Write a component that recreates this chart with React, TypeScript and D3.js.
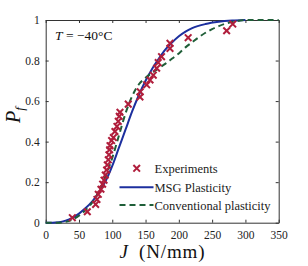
import * as d3 from 'd3';
import { useEffect, useRef } from 'react';

// experiments (J in N/mm, failure probability)
const expJ = [40, 62.5, 75, 77, 79, 83, 85.5, 87.6, 89.5, 91.5, 92.5, 94, 95, 96, 96.6, 99, 101.6, 104, 107, 109, 110.5, 111.6, 124, 141.6, 142, 151.7, 156.7, 161.6, 166.7, 169, 174, 186.7, 186.7, 214, 271.8, 281];
const expP = [0.025, 0.054, 0.09, 0.115, 0.14, 0.165, 0.19, 0.21, 0.235, 0.26, 0.285, 0.31, 0.335, 0.36, 0.38, 0.405, 0.42, 0.45, 0.475, 0.5, 0.525, 0.545, 0.585, 0.62, 0.646, 0.68, 0.704, 0.728, 0.762, 0.79, 0.819, 0.86, 0.885, 0.913, 0.947, 0.98];

// MSG plasticity curve
const msgJ = [0, 10, 20, 30, 40, 50, 60, 70, 80, 90, 100, 110, 120, 130, 140, 150, 160, 170, 180, 190, 200, 210, 220, 240, 260, 280, 300];
const msgP = [0, 0, 0.002, 0.01, 0.024, 0.045, 0.072, 0.105, 0.15, 0.205, 0.28, 0.37, 0.46, 0.55, 0.63, 0.7, 0.76, 0.81, 0.855, 0.89, 0.92, 0.943, 0.96, 0.98, 0.991, 0.997, 1];

// conventional plasticity curve
const convJ = [0, 10, 20, 30, 40, 50, 60, 70, 80, 90, 100, 110, 120, 130, 140, 150, 160, 170, 180, 190, 200, 210, 220, 230, 240, 250, 260, 270, 280, 290, 300, 350];
const convP = [0, 0, 0, 0.004, 0.015, 0.035, 0.062, 0.1, 0.155, 0.23, 0.32, 0.43, 0.54, 0.625, 0.683, 0.715, 0.74, 0.762, 0.785, 0.81, 0.835, 0.865, 0.89, 0.915, 0.937, 0.955, 0.97, 0.982, 0.99, 0.996, 1, 1];

const xTicks = [0, 50, 100, 150, 200, 250, 300, 350];
const yTicks = [0, 0.2, 0.4, 0.6, 0.8, 1];

const RED = '#b01e3c';
const BLUE = '#1c2f9e';
const GREEN = '#1f5e38';
const FONT = '"Liberation Serif", "DejaVu Serif", serif';

export default function App() {
  const svgRef = useRef<SVGSVGElement>(null);

  useEffect(() => {
    const svg = d3.select(svgRef.current);
    svg.selectAll('*').remove();

    const width = 308;
    const height = 266;
    const left = 45.7, right = 278.7, top = 20, bottom = 222.7;

    const x = d3.scaleLinear([0, 350], [left, right]);
    const y = d3.scaleLinear([0, 1], [bottom, top]);

    svg.attr('viewBox', [0, 0, width, height])
      .attr('width', width)
      .attr('height', height)
      .attr('font-family', FONT);

    svg.append('rect').attr('width', width).attr('height', height).attr('fill', 'white');

    const fmtY = (d: number) => (d === 0 || d === 1 ? String(d) : d.toFixed(1));

    // axes (ticks inward, box)
    svg.append('g')
      .attr('transform', `translate(0,${bottom})`)
      .call(d3.axisBottom(x).tickValues(xTicks).tickSize(-3).tickSizeOuter(0).tickPadding(8))
      .attr('font-family', FONT)
      .attr('font-size', 11.5)
      .call(g => g.select('.domain').attr('stroke', '#333'))
      .call(g => g.selectAll('.tick line').attr('stroke', '#333'))
      .call(g => g.selectAll('text').attr('fill', '#222'));

    svg.append('g')
      .attr('transform', `translate(${left},0)`)
      .call(d3.axisLeft(y).tickValues(yTicks).tickFormat(fmtY as any).tickSize(-3).tickSizeOuter(0).tickPadding(6))
      .attr('font-family', FONT)
      .attr('font-size', 11.5)
      .call(g => g.select('.domain').attr('stroke', '#333'))
      .call(g => g.selectAll('.tick line').attr('stroke', '#333'))
      .call(g => g.selectAll('text').attr('fill', '#222'));

    svg.append('g')
      .attr('transform', `translate(0,${top})`)
      .call(d3.axisTop(x).tickValues(xTicks).tickSize(-3).tickSizeOuter(0).tickFormat(() => ''))
      .call(g => g.select('.domain').attr('stroke', '#333'))
      .call(g => g.selectAll('.tick line').attr('stroke', '#333'));

    svg.append('g')
      .attr('transform', `translate(${right},0)`)
      .call(d3.axisRight(y).tickValues(yTicks).tickSize(-3).tickSizeOuter(0).tickFormat(() => ''))
      .call(g => g.select('.domain').attr('stroke', '#333'))
      .call(g => g.selectAll('.tick line').attr('stroke', '#333'));

    // curves
    const line = d3.line<[number, number]>()
      .x(d => x(d[0]))
      .y(d => y(d[1]))
      .curve(d3.curveMonotoneX);

    svg.append('path')
      .attr('fill', 'none')
      .attr('stroke', BLUE)
      .attr('stroke-width', 2)
      .attr('d', line(msgJ.map((j, i) => [j, msgP[i]])));

    svg.append('path')
      .attr('fill', 'none')
      .attr('stroke', GREEN)
      .attr('stroke-width', 2)
      .attr('stroke-dasharray', '6,4')
      .attr('d', line(convJ.map((j, i) => [j, convP[i]])));

    // experiment crosses
    const cross = (g: any, cx: number, cy: number) => {
      const s = 3.3;
      g.append('path')
        .attr('d', `M${cx - s},${cy - s}L${cx + s},${cy + s}M${cx - s},${cy + s}L${cx + s},${cy - s}`)
        .attr('stroke', RED)
        .attr('stroke-width', 2)
        .attr('fill', 'none');
    };
    const pts = svg.append('g');
    expJ.forEach((j, i) => cross(pts, x(j), y(expP[i])));

    // annotation
    const ann = svg.append('text')
      .attr('x', 55)
      .attr('y', 39.5)
      .attr('fill', '#111')
      .attr('font-size', 13.5);
    ann.append('tspan').attr('font-style', 'italic').text('T');
    ann.append('tspan').text(' = −40°C');

    // legend
    const lg = svg.append('g').attr('font-size', 12.5).attr('fill', '#222');
    cross(lg, 136.7, 168.3);
    lg.append('text').attr('x', 154.5).attr('y', 172.5).text('Experiments');
    lg.append('line').attr('x1', 119.5).attr('x2', 153.5).attr('y1', 187.3).attr('y2', 187.3)
      .attr('stroke', BLUE).attr('stroke-width', 2);
    lg.append('text').attr('x', 154.5).attr('y', 191.5).text('MSG Plasticity');
    lg.append('line').attr('x1', 119.5).attr('x2', 153.5).attr('y1', 205).attr('y2', 205)
      .attr('stroke', GREEN).attr('stroke-width', 2).attr('stroke-dasharray', '6,4');
    lg.append('text').attr('x', 154.5).attr('y', 209.5).attr('textLength', 116).text('Conventional plasticity');

    // axis titles
    const xt = svg.append('text')
      .attr('x', 119.5)
      .attr('y', 257.5)
      .attr('textLength', 85)
      .attr('fill', '#111')
      .attr('font-size', 19);
    xt.append('tspan').attr('font-style', 'italic').text('J');
    xt.append('tspan').text('\u2002(N/mm)');

    const yt = svg.append('text')
      .attr('transform', 'translate(20,115) rotate(-90)')
      .attr('text-anchor', 'middle')
      .attr('fill', '#111')
      .attr('font-size', 20);
    yt.append('tspan').attr('font-style', 'italic').text('P');
    yt.append('tspan').attr('font-style', 'italic').attr('dy', 4).attr('font-size', 13).text('f');
  }, []);

  return <svg ref={svgRef} style={{ position: 'absolute', left: 0, top: 0 }} />;
}
